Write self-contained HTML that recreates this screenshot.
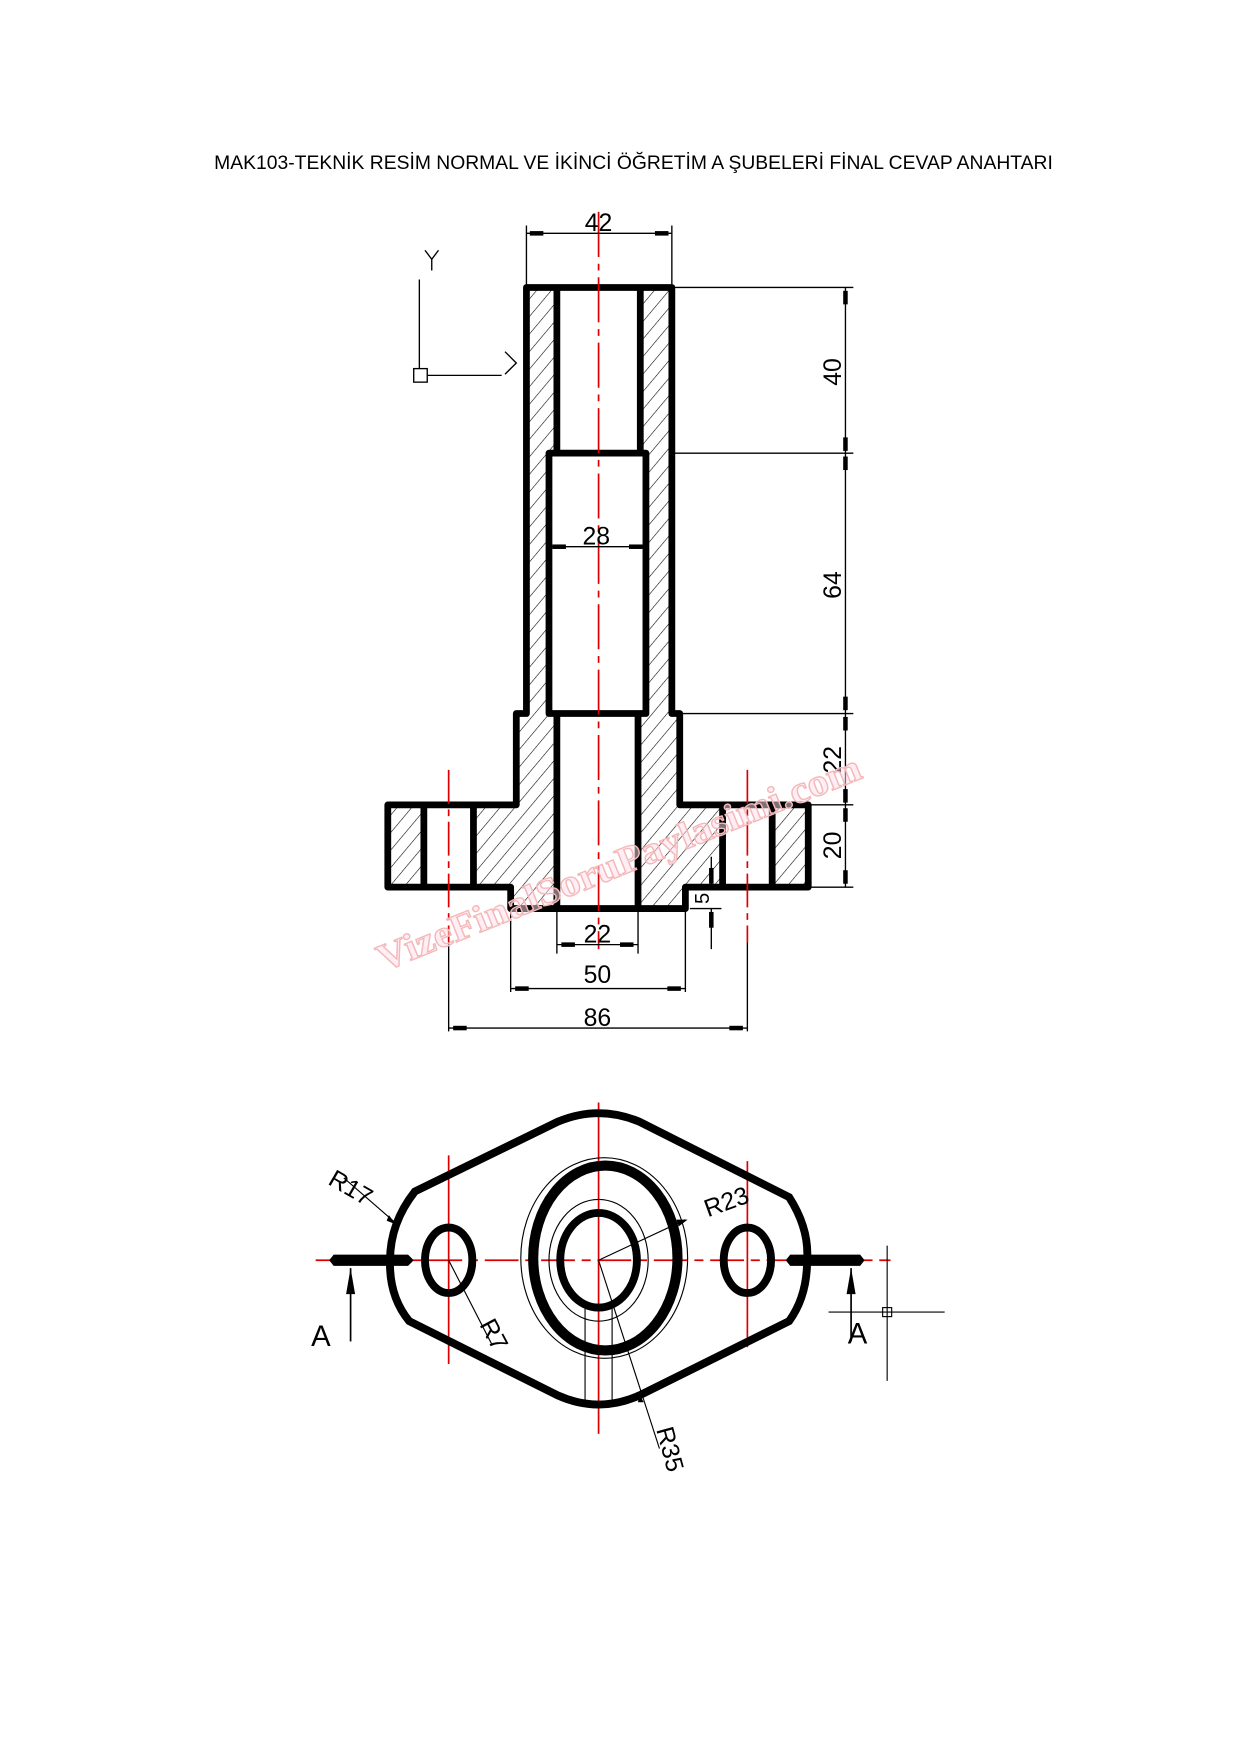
<!DOCTYPE html>
<html><head><meta charset="utf-8"><style>html,body{margin:0;padding:0;background:#fff}svg{display:block}</style></head>
<body>
<svg width="1240" height="1754" viewBox="0 0 1100 1556" xmlns="http://www.w3.org/2000/svg" font-family="Liberation Sans, sans-serif">
<defs>
<pattern id="h" patternUnits="userSpaceOnUse" width="10" height="10" patternTransform="rotate(40)">
<line x1="0" y1="0" x2="0" y2="10" stroke="#000" stroke-width="1"/>
</pattern>
</defs>
<rect width="1100" height="1556" fill="#fff"/>
<text x="190" y="150" font-size="17" textLength="744" lengthAdjust="spacingAndGlyphs">MAK103-TEKNİK RESİM NORMAL VE İKİNCİ ÖĞRETİM A ŞUBELERİ FİNAL CEVAP ANAHTARI</text>

<!-- body -->
<path d="M467,255 H596 V633 H603 V714 H717 V787 H608 V806 H453 V787 H344 V714 H458 V633 H467 Z" fill="url(#h)"/>
<rect x="494" y="255" width="74" height="147" fill="#fff"/>
<rect x="487" y="402" width="86" height="231" fill="#fff"/>
<rect x="494" y="633" width="72" height="173" fill="#fff"/>
<rect x="376" y="714" width="44" height="73" fill="#fff"/>
<rect x="641" y="714" width="44" height="73" fill="#fff"/>
<g fill="none" stroke="#000" stroke-width="6" stroke-linejoin="round">
<path d="M467,255 H596 V633 H603 V714 H717 V787 H608 V806 H453 V787 H344 V714 H458 V633 H467 Z"/>
<path d="M494,255 V402 M568,255 V402"/>
<rect x="487" y="402" width="86" height="231"/>
<path d="M494,633 V806 M566,633 V806"/>
<path d="M376,714 V787 M420,714 V787 M641,714 V787 M685,714 V787"/>
</g>
<!-- centerlines -->
<g stroke="#d00" stroke-width="1.5" fill="none">
<path d="M531,188 V842" stroke-dasharray="40,6,6,6"/>
<path d="M398,683 V836" stroke-dasharray="30,5,6,5"/>
<path d="M663,683 V836" stroke-dasharray="30,5,6,5"/>
</g>
<!-- UCS -->
<g stroke="#000" stroke-width="1.2" fill="none">
<rect x="367" y="327" width="12" height="12"/>
<path d="M372,327 V248 M379,333 H445 M377,222 L383,230 L389,222 M383,230 V240 M448,312 L458,322 L448,332"/>
</g>
<!-- dimensions -->
<g stroke="#000" stroke-width="1.2" fill="none">
<path d="M467,200 V255 M596,200 V255 M467,207 H596"/>
<path d="M596,255 H757 M596,402 H757 M603,633 H757 M717,714 H757 M717,787 H757 M750,255 V787"/>
<path d="M487,485 H573"/>
<path d="M494,806 V846 M566,806 V846 M494,838 H566"/>
<path d="M453,806 V880 M608,806 V880 M453,877 H608"/>
<path d="M398,836 V915 M663,836 V915 M398,912 H663"/>
<path d="M631,760 V787 M631,806 V842 M612,806 H640"/>
</g>
<g fill="#000">
<rect x="470" y="205" width="12" height="4"/><rect x="581" y="205" width="12" height="4"/>
<rect x="748" y="258" width="4" height="12"/><rect x="748" y="388" width="4" height="12"/>
<rect x="748" y="405" width="4" height="12"/><rect x="748" y="618" width="4" height="12"/>
<rect x="748" y="636" width="4" height="12"/><rect x="748" y="700" width="4" height="12"/>
<rect x="748" y="717" width="4" height="12"/><rect x="748" y="772" width="4" height="12"/>
<rect x="490" y="483" width="12" height="4"/><rect x="558" y="483" width="12" height="4"/>
<rect x="498" y="836" width="12" height="4"/><rect x="550" y="836" width="12" height="4"/>
<rect x="457" y="875" width="12" height="4"/><rect x="592" y="875" width="12" height="4"/>
<rect x="402" y="910" width="12" height="4"/><rect x="647" y="910" width="12" height="4"/>
<rect x="629" y="770" width="4" height="14"/><rect x="629" y="809" width="4" height="14"/>
</g>
<g font-size="22" text-anchor="middle" fill="#000">
<text x="531" y="205">42</text>
<text x="529" y="483">28</text>
<text x="530" y="836">22</text>
<text x="530" y="872">50</text>
<text x="530" y="910">86</text>
<text transform="translate(746,330) rotate(-90)">40</text>
<text transform="translate(746,519) rotate(-90)">64</text>
<text transform="translate(746,674) rotate(-90)">22</text>
<text transform="translate(746,750) rotate(-90)">20</text>
<text transform="translate(629,797) rotate(-90)" font-size="18">5</text>
</g>

<!-- watermark -->
<text x="340" y="862" font-size="34" font-weight="bold" font-family="Liberation Serif, serif" fill="#fde" fill-opacity="0.5" stroke="#f4b8b8" stroke-width="1.2" transform="rotate(-22 340 862)" textLength="460" lengthAdjust="spacingAndGlyphs">VizeFinalSoruPaylasimi.com</text>

<!-- bottom view -->
<g stroke="#d00" stroke-width="1.5" fill="none">
<path d="M280,1118 H790" stroke-dasharray="30,6,8,6"/>
<path d="M531,978 V1272"/>
<path d="M398,1025 V1210"/>
<path d="M663,1030 V1195"/>
</g>
<g fill="none" stroke="#000" stroke-width="7">
<path d="M368,1057 L495,995 Q531,980 567,995 L700,1062 Q718,1090 716,1118 Q716,1150 700,1172 L567,1238 Q531,1254 495,1238 L363,1172 Q345,1150 346,1118 Q346,1085 368,1057 Z"/>
<ellipse cx="398" cy="1118" rx="21" ry="29"/>
<ellipse cx="663" cy="1118" rx="21" ry="29"/>
<ellipse cx="537" cy="1116" rx="64" ry="82" stroke-width="9"/>
<ellipse cx="531" cy="1118" rx="34" ry="42" stroke-width="7"/>
</g>
<g fill="none" stroke="#000" stroke-width="1">
<ellipse cx="536" cy="1116" rx="74" ry="89"/>
<ellipse cx="531" cy="1118" rx="44" ry="54"/>
<path d="M519,1160 V1245 M543,1160 V1245"/>
<path d="M351,1085 L305,1045 M398,1118 L436,1192 M531,1118 L608,1082 M531,1118 L585,1285"/>
<path d="M787,1105 V1225 M735,1164 H838"/>
<rect x="783" y="1160" width="8" height="8"/>
</g>
<g fill="#000">
<path d="M296,1113 H362 L367,1118 L362,1123 H296 L292,1118 Z"/>
<path d="M701,1113 H763 L767,1118 L763,1123 H701 L697,1118 Z"/>
<path d="M311,1125 V1190" stroke="#000" stroke-width="1.5"/>
<path d="M307,1148 L311,1125 L315,1148 Z"/>
<path d="M755,1125 V1190" stroke="#000" stroke-width="1.5"/>
<path d="M751,1148 L755,1125 L759,1148 Z"/>
<path d="M343,1083 L351,1086 L345,1078 Z"/>
<path d="M602,1088 L610,1082 L600,1082 Z"/>
<path d="M566,1244 L567,1236 L571,1244 Z"/>
</g>
<g font-size="22" fill="#000">
<text x="276" y="1194" font-size="26">A</text>
<text x="752" y="1192" font-size="26">A</text>
<text transform="translate(290,1050) rotate(30)">R17</text>
<text transform="translate(425,1175) rotate(62)">R7</text>
<text transform="translate(628,1080) rotate(-20)">R23</text>
<text transform="translate(582,1268) rotate(75)">R35</text>
</g>
</svg>
</body></html>
